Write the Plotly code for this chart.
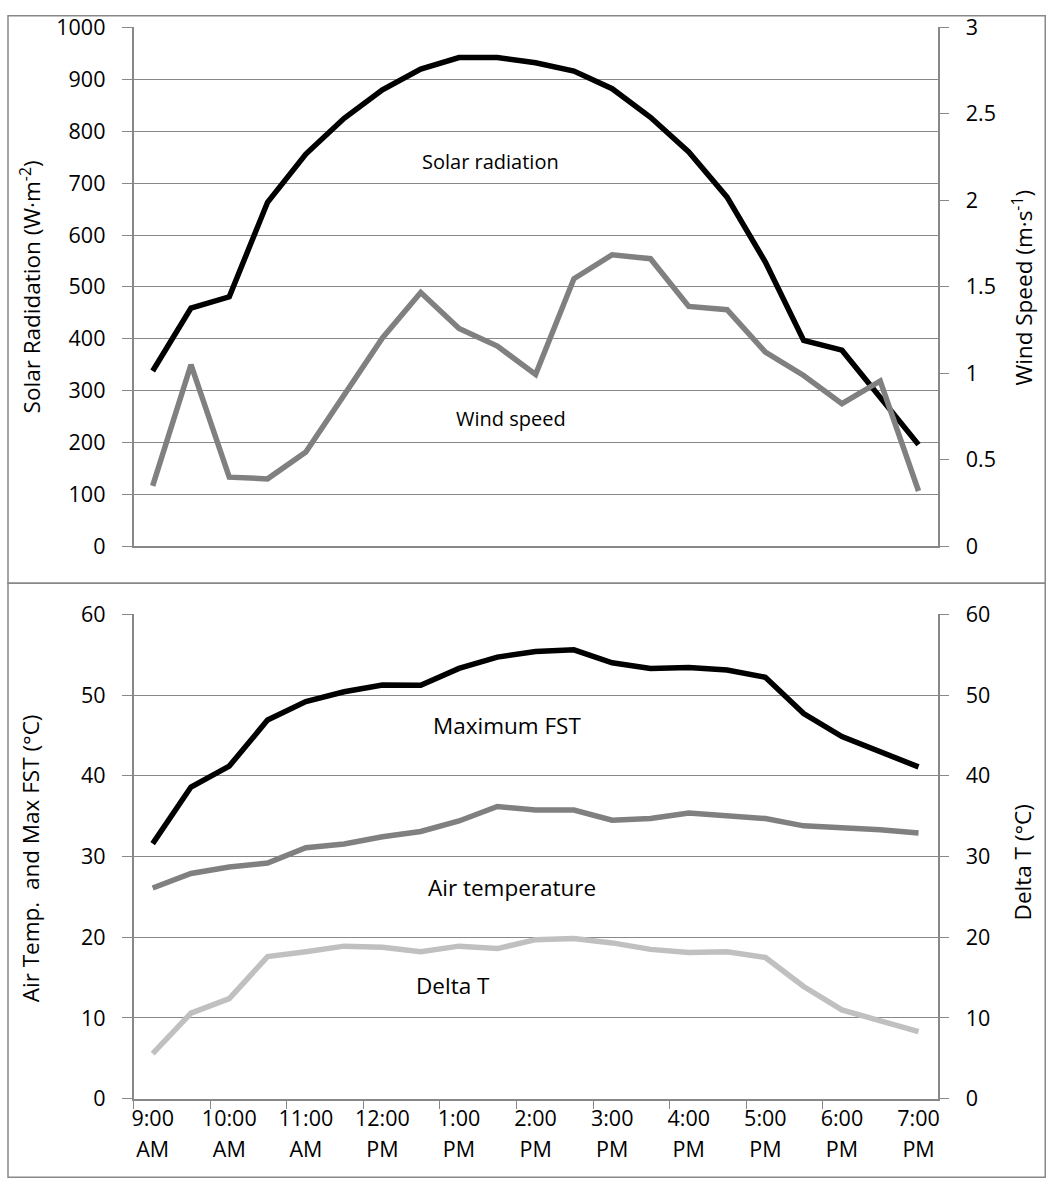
import plotly.graph_objects as go

# ---------------- data ----------------
times = ["9:00 AM", "9:30 AM", "10:00 AM", "10:30 AM", "11:00 AM", "11:30 AM",
         "12:00 PM", "12:30 PM", "1:00 PM", "1:30 PM", "2:00 PM", "2:30 PM",
         "3:00 PM", "3:30 PM", "4:00 PM", "4:30 PM", "5:00 PM", "5:30 PM",
         "6:00 PM", "6:30 PM", "7:00 PM"]

solar_radiation = [338, 459, 481, 663, 756, 825, 880, 920, 942, 942, 932,
                   916, 882, 827, 760, 673, 548, 397, 378, 288, 196]
wind_speed = [0.35, 1.05, 0.40, 0.39, 0.545, 0.875, 1.205, 1.468, 1.26, 1.158, 0.994,
              1.547, 1.686, 1.663, 1.387, 1.368, 1.123, 0.988, 0.825, 0.956, 0.32]
max_fst = [31.6, 38.6, 41.2, 46.9, 49.2, 50.4, 51.25, 51.2, 53.3, 54.7, 55.4,
           55.6, 54.0, 53.3, 53.4, 53.1, 52.2, 47.7, 44.85, 43.0, 41.1]
air_temp = [26.1, 27.9, 28.7, 29.2, 31.1, 31.55, 32.45, 33.1, 34.4, 36.2, 35.75,
            35.75, 34.5, 34.7, 35.4, 35.0, 34.7, 33.8, 33.6, 33.3, 32.9]
delta_t = [5.6, 10.6, 12.4, 17.6, 18.2, 18.9, 18.75, 18.2, 18.9, 18.6, 19.7,
           19.85, 19.3, 18.5, 18.1, 18.2, 17.5, 13.9, 11.0, 9.6, 8.3]

hour_labels = ["9:00", "10:00", "11:00", "12:00", "1:00", "2:00",
               "3:00", "4:00", "5:00", "6:00", "7:00"]
ampm_labels = ["AM", "AM", "AM", "PM", "PM", "PM", "PM", "PM", "PM", "PM", "PM"]

# ---------------- layout helpers ----------------
W, H = 1048, 1192
# photographed picture ~ (scale * page + offset); target positions are inverted
SX, BX = 0.996, 2.0
SY, BY = 0.976, 14.5
FONT = "Open Sans"
GC = "#888888"


def fx(x):
    return min(max((x - BX) / SX, 0.75), W - 0.75)


def fy(y):
    return min(max((y - BY) / SY, 0.75), H - 0.75)


def px(x):
    return fx(x) / W


def py(y):
    return 1 - fy(y) / H


def fs(s):
    return round(s / SY, 1)


xpos = list(range(len(times)))
label_pos = [xpos[times.index(h + " " + a)] for h, a in zip(hour_labels, ampm_labels)]
boundary_ticks = [p - 0.5 for p in label_pos[:-1]]
xr = [-0.5, len(times) - 0.5]

xdom = [px(133.5), px(937.5)]
top_dom = [py(546), py(27)]
bot_dom = [py(1098.6), py(614)]

fig = go.Figure()

LW = 5.5
fig.add_trace(go.Scatter(x=xpos, y=solar_radiation, xaxis="x2", yaxis="y",
                         mode="lines", line=dict(color="#000000", width=LW),
                         text=times, name="Solar radiation"))
fig.add_trace(go.Scatter(x=xpos, y=wind_speed, xaxis="x2", yaxis="y2",
                         mode="lines", line=dict(color="#808080", width=LW),
                         text=times, name="Wind speed"))
fig.add_trace(go.Scatter(x=xpos, y=max_fst, xaxis="x", yaxis="y3",
                         mode="lines", line=dict(color="#000000", width=LW),
                         text=times, name="Maximum FST"))
fig.add_trace(go.Scatter(x=xpos, y=air_temp, xaxis="x", yaxis="y3",
                         mode="lines", line=dict(color="#808080", width=LW),
                         text=times, name="Air temperature"))
fig.add_trace(go.Scatter(x=xpos, y=delta_t, xaxis="x", yaxis="y4",
                         mode="lines", line=dict(color="#c0c0c0", width=LW),
                         text=times, name="Delta T"))
# invisible carrier trace so the AM/PM label axis is drawn
fig.add_trace(go.Scatter(x=xpos, y=delta_t, xaxis="x3", yaxis="y4",
                         mode="lines", line=dict(color="rgba(0,0,0,0)", width=0),
                         hoverinfo="skip", showlegend=False))

tickfont = dict(family=FONT, size=fs(21), color="#000000")

yaxis_common = dict(
    showgrid=True, gridcolor=GC, gridwidth=1,
    ticks="outside", ticklen=10, tickcolor=GC, tickwidth=1,
    showline=True, linecolor=GC, linewidth=1.5,
    zeroline=False, tickfont=tickfont, ticklabelstandoff=12,
    fixedrange=True,
)

fig.update_layout(
    width=W, height=H,
    margin=dict(l=0, r=0, t=0, b=0),
    paper_bgcolor="white", plot_bgcolor="white",
    showlegend=False,
    font=dict(family=FONT, color="#000000"),
    xaxis=dict(domain=xdom, anchor="y3", range=xr,
               tickmode="array", tickvals=label_pos, ticktext=hour_labels,
               ticks="", showgrid=False, zeroline=False,
               showline=True, linecolor=GC, linewidth=1.5,
               tickfont=tickfont, ticklabelstandoff=0,
               minor=dict(tickmode="array", tickvals=boundary_ticks,
                          ticks="outside", ticklen=9, tickcolor=GC,
                          tickwidth=1, showgrid=False)),
    xaxis3=dict(overlaying="x", anchor="y3", range=xr, side="bottom",
                tickmode="array", tickvals=label_pos, ticktext=ampm_labels,
                ticks="", showgrid=False, zeroline=False, showline=False,
                tickfont=tickfont, ticklabelstandoff=36),
    xaxis2=dict(domain=xdom, anchor="y", range=xr, showticklabels=False,
                ticks="", showgrid=False, zeroline=False,
                showline=True, linecolor=GC, linewidth=1.5),
    yaxis=dict(domain=top_dom, anchor="x2", range=[0, 1000], dtick=100,
               **yaxis_common),
    yaxis2=dict(overlaying="y", anchor="x2", side="right", range=[0, 3],
                dtick=0.5, **{**yaxis_common, "showgrid": False}),
    yaxis3=dict(domain=bot_dom, anchor="x", range=[0, 60], dtick=10,
                **yaxis_common),
    yaxis4=dict(overlaying="y3", anchor="x", side="right", range=[0, 60],
                dtick=10, **{**yaxis_common, "showgrid": False}),
)

# panel borders
fig.add_shape(type="rect", xref="paper", yref="paper",
              x0=px(8), x1=px(1047), y0=py(583), y1=py(8),
              line=dict(color=GC, width=1.5), layer="below")
fig.add_shape(type="rect", xref="paper", yref="paper",
              x0=px(8), x1=px(1047), y0=py(1192), y1=py(583),
              line=dict(color=GC, width=1.5), layer="below")

# axis titles
title_font = dict(family=FONT, size=fs(22), color="#000000")
for text, x, y in [
    ("Solar Radidation (W·m<sup>-2</sup>)", 30, 287),
    ("Wind Speed (m·s<sup>-1</sup>)", 1022, 287),
    ("Air Temp.  and Max FST (°C)", 30, 858),
    ("Delta T (°C)", 1022, 862),
]:
    fig.add_annotation(text=text, x=px(x), y=py(y), xref="paper", yref="paper",
                       showarrow=False, textangle=-90, font=title_font,
                       xanchor="center", yanchor="middle")

# series labels
for text, x, y, size in [
    ("Solar radiation", 490, 161, 19.5),
    ("Wind speed", 511, 418, 19.5),
    ("Maximum FST", 507, 725, 22),
    ("Air temperature", 512, 887, 22),
    ("Delta T", 453, 985, 22),
]:
    fig.add_annotation(text=text, x=px(x), y=py(y), xref="paper", yref="paper",
                       showarrow=False,
                       font=dict(family=FONT, size=fs(size), color="#000000"),
                       xanchor="center", yanchor="middle")

fig.write_html(
    "out.html",
    config={"displayModeBar": False},
    post_script="document.body.style.margin='0';document.body.style.overflow='hidden';",
)
